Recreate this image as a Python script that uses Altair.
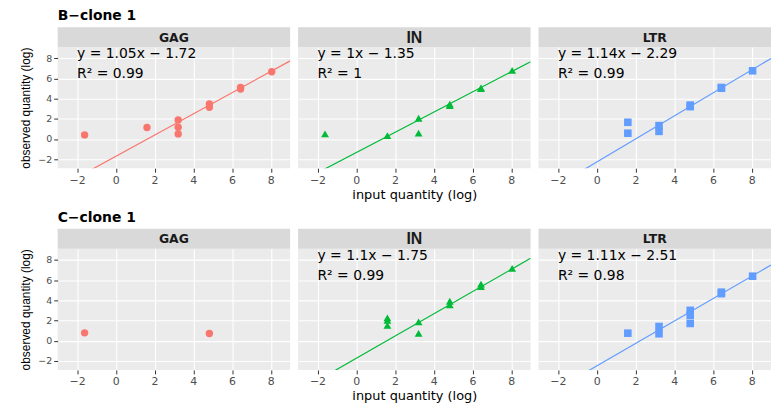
import altair as alt
import pandas as pd

# ---------------- data ----------------
row_titles = ["B\u2212clone 1", "C\u2212clone 1"]
genes = ["GAG", "IN", "LTR"]
gene_colors = ["#F8766D", "#00BA38", "#619CFF"]
gene_shapes = ["circle", "triangle-up", "square"]

x_ticks = [-2, 0, 2, 4, 6, 8]
y_ticks = [-2, 0, 2, 4, 6, 8]

# B-clone 1
b_gag_x = [-1.61, 1.61, 3.22, 3.22, 3.22, 4.83, 4.83, 6.44, 6.44, 8.05]
b_gag_y = [0.40, 1.13, 1.88, 1.16, 0.50, 3.46, 3.13, 5.10, 4.94, 6.65]
b_in_x = [-1.61, 1.61, 3.22, 3.22, 4.83, 4.83, 6.44, 6.44, 8.05]
b_in_y = [0.50, 0.34, 2.05, 0.57, 3.45, 3.30, 5.05, 4.98, 6.80]
b_ltr_x = [1.61, 1.61, 3.22, 3.22, 4.83, 4.83, 6.44, 6.44, 8.05]
b_ltr_y = [1.65, 0.57, 1.32, 0.75, 3.35, 3.20, 5.10, 5.02, 6.75]

# C-clone 1
c_gag_x = [-1.61, 4.83]
c_gag_y = [0.77, 0.71]
c_in_x = [1.61, 1.61, 1.61, 3.22, 3.22, 4.83, 4.83, 6.44, 6.44, 8.05]
c_in_y = [2.25, 2.00, 1.50, 1.86, 0.71, 3.90, 3.55, 5.60, 5.35, 7.15]
c_ltr_x = [1.61, 3.22, 3.22, 4.83, 4.83, 4.83, 6.44, 6.44, 8.05]
c_ltr_y = [0.74, 1.40, 0.68, 3.00, 2.50, 1.70, 4.80, 4.65, 6.38]

# regression fits (slope, intercept, R^2); None = no fit shown
b_fits = [(1.05, -1.72, "0.99"), (1.0, -1.35, "1"), (1.14, -2.29, "0.99")]
c_fits = [None, (1.1, -1.75, "0.99"), (1.11, -2.51, "0.98")]
b_slope_labels = ["1.05", "1", "1.14"]
c_slope_labels = [None, "1.1", "1.11"]

X = [[b_gag_x, b_in_x, b_ltr_x], [c_gag_x, c_in_x, c_ltr_x]]
Y = [[b_gag_y, b_in_y, b_ltr_y], [c_gag_y, c_in_y, c_ltr_y]]
FITS = [b_fits, c_fits]
SLOPE_LABELS = [b_slope_labels, c_slope_labels]

# ---------------- layout / style ----------------
W, H = 234, 122
STRIP = 20
x_domain = [-3.0, 9.0]
y_domain = [-2.9, 9.1]
EQ_X = -2.0
EQ_Y1 = 8.4
EQ_Y2 = 6.4
FONT = "DejaVu Sans"


def make_panel(r, g):
    name = genes[g]
    color = gene_colors[g]
    xs = alt.Scale(domain=x_domain, nice=False, zero=False)
    ys = alt.Scale(domain=y_domain, nice=False, zero=False)

    if g == 1:
        xaxis = alt.Axis(values=x_ticks, format="d", title="input quantity (log)",
                         labelOverlap=False)
    else:
        xaxis = alt.Axis(values=x_ticks, format="d", title=None, labelOverlap=False)
    if g == 0:
        yaxis = alt.Axis(values=y_ticks, format="d", title="observed quantity (log)",
                         titleFont="Liberation Sans", titleFontSize=12,
                         labelFontSize=9.5, titlePadding=5, labelOverlap=False)
    else:
        yaxis = alt.Axis(values=y_ticks, labels=False, ticks=False, title=None)

    def xy():
        return dict(x=alt.X("x:Q", scale=xs, axis=xaxis, title=xaxis.title),
                    y=alt.Y("y:Q", scale=ys, axis=yaxis, title=yaxis.title))

    pts = pd.DataFrame({"x": X[r][g], "y": Y[r][g]})
    lab = pd.DataFrame({"label": [name]})

    strip = alt.Chart(lab).mark_rect(color="#D9D9D9").encode(
        x=alt.value(0), x2=alt.value(W), y=alt.value(-STRIP), y2=alt.value(0)
    )
    if name == "IN":
        stext = alt.Chart(lab).mark_text(font="Liberation Sans", fontWeight="bold",
                                         fontSize=16, color="#1A1A1A", baseline="middle")
    else:
        stext = alt.Chart(lab).mark_text(font=FONT, fontWeight="bold",
                                         fontSize=12.5, color="#1A1A1A", baseline="middle")
    stext = stext.encode(x=alt.value(W / 2), y=alt.value(-STRIP / 2 + 0.5), text="label:N")

    size = {"circle": 55, "triangle-up": 62, "square": 58}[gene_shapes[g]]
    points = alt.Chart(pts).mark_point(filled=True, opacity=1, shape=gene_shapes[g],
                                       size=size, color=color).encode(**xy())

    layers = [strip, stext]
    fit = FITS[r][g]
    if fit is not None:
        slope, icpt, r2 = fit
        line_df = pd.DataFrame({"x": x_domain, "y": [slope * v + icpt for v in x_domain]})
        line = alt.Chart(line_df).mark_line(color=color, strokeWidth=1.2, clip=True).encode(
            **xy()
        )
        layers.append(line)
    layers.append(points)
    if fit is not None:
        slope, icpt, r2 = fit
        eq = "y = " + SLOPE_LABELS[r][g] + "x \u2212 " + f"{abs(icpt):.2f}"
        eq_df = pd.DataFrame({"x": [EQ_X, EQ_X], "y": [EQ_Y1, EQ_Y2],
                              "t": [eq, "R\u00b2 = " + r2]})
        eqt = alt.Chart(eq_df).mark_text(font=FONT, fontSize=14, align="left",
                                         baseline="middle", color="black").encode(
            text="t:N", **xy()
        )
        layers.append(eqt)

    return alt.layer(*layers).properties(width=W, height=H)


rows = []
for r in range(2):
    panels = [make_panel(r, g) for g in range(3)]
    rows.append(
        alt.hconcat(*panels, spacing=8).properties(
            title=alt.TitleParams(row_titles[r], anchor="start", dx=38, fontSize=14,
                                  font=FONT, fontWeight="bold", color="black", offset=4)
        )
    )

chart = (
    alt.vconcat(*rows, spacing=10)
    .properties(padding={"left": 11, "top": 0, "right": 0, "bottom": 0})
    .configure_view(fill="#EBEBEB", strokeWidth=0)
    .configure_axis(
        labelFont=FONT, labelColor="#4D4D4D", labelFontSize=11,
        tickColor="#333333", tickSize=4, labelPadding=2,
        gridColor="white", gridWidth=1.1, domain=False,
        titleFont=FONT, titleFontWeight="normal", titleColor="black", titleFontSize=13,
        titlePadding=3,
    )
    .configure_concat(spacing=8)
)

chart.save("out.html", embed_options={"renderer": "svg", "actions": False})
